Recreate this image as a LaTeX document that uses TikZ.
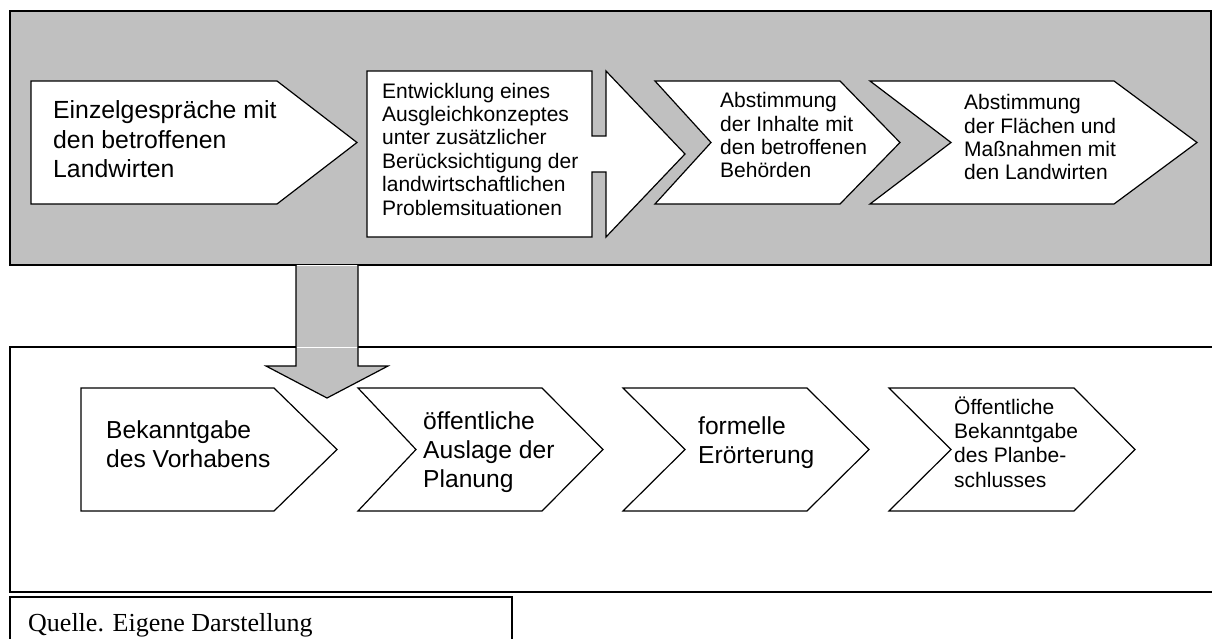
\documentclass[tikz,border=0pt]{standalone}
\usepackage{fontspec}
\setmainfont{Liberation Sans}
\newfontfamily\captionserif{Liberation Serif}
\definecolor{panelgray}{HTML}{C0C0C0}
\begin{document}
\begin{tikzpicture}[x=1pt,y=-1pt,
  panel/.style={draw=black,line width=1.6pt},
  stepshape/.style={draw=black,fill=white,line width=1.2pt,line join=miter},
  % multi-line texts are placed by the baseline of their last line
  steptext/.style={anchor=base west,inner sep=0pt,align=left},
  bigtext/.style={steptext,font=\fontsize{24.8}{29.5}\selectfont},
  midtext/.style={steptext,font=\fontsize{21}{23.4}\selectfont},
  lowtext/.style={steptext,font=\fontsize{24.6}{28.8}\selectfont},
  smalltext/.style={steptext,font=\fontsize{21}{24.1}\selectfont}]
\useasboundingbox (0,0) rectangle (1212,639);
\clip (0,0) rectangle (1212,639);

% upper panel: consultation phase
\fill[panelgray] (10,11) rectangle (1211,265);
\draw[panel] (10,11) rectangle (1211,265);

% lower panel: formal procedure
\draw[panel] (1230,347) -- (10,347) -- (10,592) -- (1230,592);

% source box
\draw[line width=1.3pt] (10,650) -- (10,597) -- (512,597) -- (512,650);
\node[anchor=base west,inner sep=0pt,font=\captionserif\fontsize{26}{30}\selectfont]
  (quelle) at (28,631) {Quelle. Eigene Darstellung};

% upper steps
\draw[stepshape] (31,81) -- (277,81) -- (357,142.5) -- (277,204) -- (31,204) -- cycle;
\node[bigtext] (u1) at (53,178) {Einzelgespräche mit\\den betroffenen\\Landwirten};

\draw[stepshape] (367,71) -- (592,71) -- (592,136) -- (606,136) -- (606,71)
  -- (685,154) -- (606,237) -- (606,172) -- (592,172) -- (592,237) -- (367,237) -- cycle;
\node[midtext] (u2) at (382,215) {Entwicklung eines\\Ausgleichkonzeptes\\unter zusätzlicher\\Berücksichtigung der\\landwirtschaftlichen\\Problemsituationen};

\draw[stepshape] (655,81) -- (840,81) -- (900,142.5) -- (840,204) -- (655,204) -- (711,142.5) -- cycle;
\node[midtext] (u3) at (720,178) {Abstimmung\\der Inhalte mit\\den betroffenen\\Behörden};

\draw[stepshape] (870,81) -- (1114,81) -- (1197,142.5) -- (1114,204) -- (870,204) -- (951,142.5) -- cycle;
\node[midtext] (u4) at (964,180) {Abstimmung\\der Flächen und\\Maßnahmen mit\\den Landwirten};

% block arrow from the upper to the lower panel
\filldraw[fill=panelgray,draw=black,line width=1.2pt,line join=miter]
  (296,265.5) -- (296,366) -- (266,366) -- (327,398) -- (388,366) -- (358,366) -- (358,265.5);
\draw[white,line width=1pt] (296.8,265.5) -- (357.2,265.5);
\draw[white,line width=1pt] (296.8,347) -- (357.2,347);

% lower steps
\draw[stepshape] (81,388) -- (274,388) -- (337,449.5) -- (274,511) -- (81,511) -- cycle;
\node[lowtext] (l1) at (106,467) {Bekanntgabe\\des Vorhabens};

\draw[stepshape] (358,388) -- (542,388) -- (603,449.5) -- (542,511) -- (358,511) -- (416,449.5) -- cycle;
\node[lowtext] (l2) at (423,487) {öffentliche\\Auslage der\\Planung};

\draw[stepshape] (623,388) -- (807,388) -- (869,449.5) -- (807,511) -- (623,511) -- (685,449.5) -- cycle;
\node[lowtext] (l3) at (698,463) {formelle\\Erörterung};

\draw[stepshape] (889,388) -- (1074,388) -- (1135,449.5) -- (1074,511) -- (889,511) -- (951,449.5) -- cycle;
\node[smalltext] (l4) at (954,487) {Öffentliche\\Bekanntgabe\\des Planbe-\\schlusses};
\end{tikzpicture}
\end{document}
